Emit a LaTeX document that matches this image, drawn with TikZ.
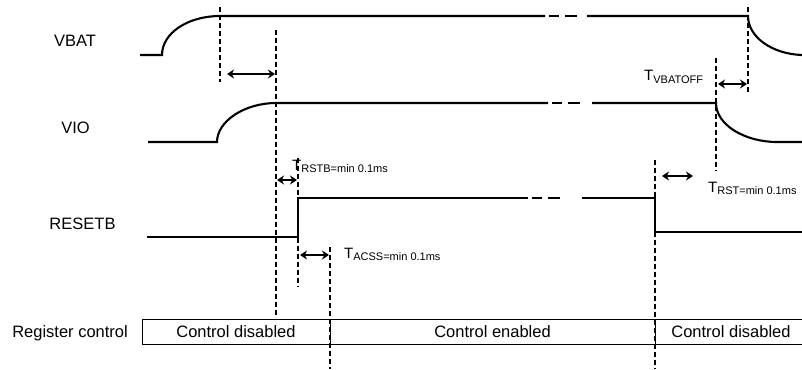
\documentclass[tikz,border=0pt]{standalone}
\usepackage{fontspec}
\setmainfont{Liberation Sans}
\usetikzlibrary{arrows.meta,positioning,calc}
\newcommand{\tlabel}[1]{T\raisebox{-2.5pt}{\fontsize{11}{12}\selectfont #1}}

\begin{document}
\begin{tikzpicture}[x=1pt,y=-1pt,
	wave/.style={line width=2.1pt},
	brk/.style={line width=2.1pt, dash pattern=on 10pt off 6pt on 12pt off 30pt},
	guide/.style={line width=1.5pt, dash pattern=on 5pt off 3pt},
	span/.style={line width=2pt, {Stealth[length=7pt,width=9pt]}-{Stealth[length=7pt,width=9pt]}},
	signame/.style={font=\fontsize{16.5}{18}\selectfont},
	cell/.style={draw, line width=0.9pt, minimum height=25pt, inner sep=0pt, font=\fontsize{16.5}{18}\selectfont},
	tlab/.style={font=\fontsize{15}{17}\selectfont, inner sep=0pt, anchor=base west}]
		\useasboundingbox (0,0) rectangle (802,369);
		% signal names
		\node at (75,40.5) [signame] (vbat) {VBAT};
		\node at (75.5,127.5) [signame] (vio) {VIO};
		\node at (82.5,223.5) [signame] (resetb) {RESETB};
		% VBAT
		\draw[wave] (140,55) -- (162,55) .. controls (162,33) and (188,16) .. (220,16) -- (545,16);
		\draw[brk] (549,16) -- (587,16);
		\draw[wave] (587,16) -- (748,16) .. controls (748,37) and (772,54) .. (802,55);
		% VIO
		\draw[wave] (148,142) -- (217,142) .. controls (217,121) and (245,103) .. (276,103) -- (548,103);
		\draw[brk] (552,103) -- (592,103);
		\draw[wave] (592,103) -- (716,103) .. controls (716,125) and (745,142) .. (777,142) -- (802,142);
		% RESETB
		\draw[wave] (147,237) -- (298,237) -- (298,198) -- (528,198);
		\draw[brk] (532,198) -- (582,198);
		\draw[wave] (582,198) -- (655,198) -- (655,232) -- (802,232);
		% guides
		\draw[guide] (220,7) -- (220,82);
		\draw[guide] (276,30) -- (276,317);
		\draw[guide] (298,158) -- (298,287);
		\draw[guide] (330,247) -- (330,369);
		\draw[guide] (655,160) -- (655,369);
		\draw[guide] (716,58) -- (716,171);
		\draw[guide] (748,7) -- (748,94);
		% timing arrows
		\coordinate (pwl) at (227,74);   \coordinate (pwr) at (275,74);
		\coordinate (rstbl) at (277,180); \coordinate (rstbr) at (297,180);
		\coordinate (acssl) at (300,255); \coordinate (acssr) at (329,255);
		\coordinate (offl) at (718,84);  \coordinate (offr) at (747,84);
		\coordinate (rstl) at (662,176); \coordinate (rstr) at (693,176);
		\draw[span] (pwl) -- (pwr);
		\draw[span] (rstbl) -- (rstbr);
		\draw[span] (acssl) -- (acssr);
		\draw[span] (offl) -- (offr);
		\draw[span] (rstl) -- (rstr);
		\node at (292,170) [tlab] (trstb) {\tlabel{RSTB=min 0.1ms}};
		\node at (344,258) [tlab] (tacss) {\tlabel{ACSS=min 0.1ms}};
		\node at (644,81) [tlab] (tvbatoff) {\tlabel{VBATOFF}};
		\node at (708,192) [tlab] (trst) {\tlabel{RST=min 0.1ms}};
		% register control
		\node at (236,331.5) [cell, minimum width=188pt] (dis1) {Control disabled};
		\node at (492.5,331.5) [cell, minimum width=325pt] (ena) {Control enabled};
		\node at (731,331.5) [cell, minimum width=152pt] (dis2) {Control disabled};
		\node at (128,337) [signame, inner sep=0pt, anchor=base east] (reg) {Register control};
		\end{tikzpicture}
\end{document}
